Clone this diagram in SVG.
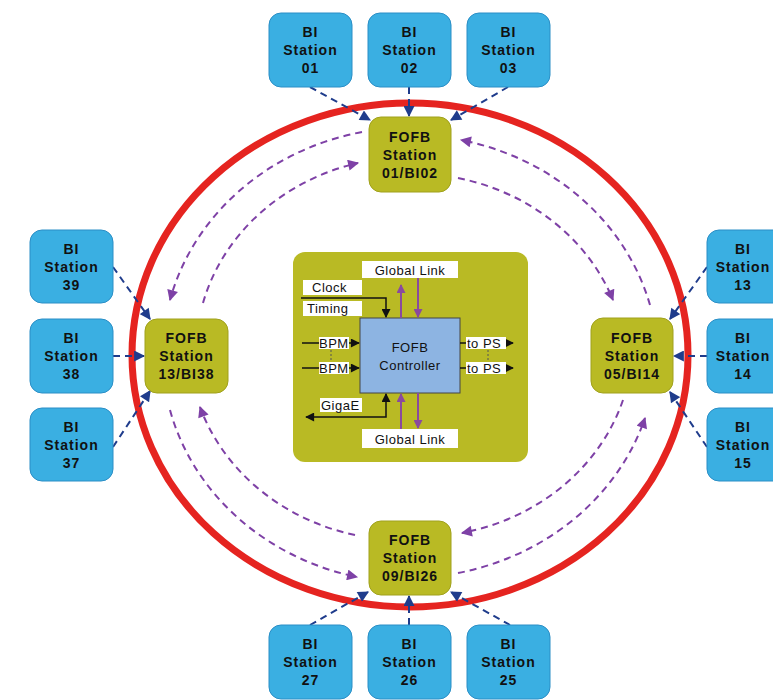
<svg xmlns="http://www.w3.org/2000/svg" width="773" height="700" viewBox="0 0 773 700">
<defs>
<style>
.bi{fill:#3AAFE2;stroke:#2A8EC6;stroke-width:1}
.fofb{fill:#B9BA24;stroke:#A0A11C;stroke-width:1}
.t{font-family:"Liberation Sans",Arial,sans-serif;font-size:14px;font-weight:bold;text-anchor:middle;letter-spacing:1px;fill:#111}
.c{font-family:"Liberation Sans",Arial,sans-serif;font-size:13px;fill:#111;letter-spacing:0.5px}
.nv{fill:none;stroke:#1F3C8C;stroke-width:2;stroke-dasharray:7,5;marker-end:url(#an)}
.pp{fill:none;stroke:#7E41A6;stroke-width:2;stroke-dasharray:7,5;marker-end:url(#ap)}
.wl{fill:#fff}
</style>
<marker id="an" viewBox="0 0 10 10" refX="9" refY="5" markerWidth="12" markerHeight="11" orient="auto" markerUnits="userSpaceOnUse"><path d="M0,0 L10,5 L0,10 z" fill="#1F3C8C"/></marker>
<marker id="ap" viewBox="0 0 10 10" refX="9" refY="5" markerWidth="12" markerHeight="11" orient="auto" markerUnits="userSpaceOnUse"><path d="M0,0 L10,5 L0,10 z" fill="#7E41A6"/></marker>
<marker id="ab" viewBox="0 0 10 10" refX="9" refY="5" markerWidth="10" markerHeight="9" orient="auto" markerUnits="userSpaceOnUse"><path d="M0,0 L10,5 L0,10 z" fill="#111"/></marker>
<marker id="abs" viewBox="0 0 10 10" refX="1" refY="5" markerWidth="10" markerHeight="9" orient="auto" markerUnits="userSpaceOnUse"><path d="M10,0 L0,5 L10,10 z" fill="#111"/></marker>
<marker id="apu" viewBox="0 0 10 10" refX="9" refY="5" markerWidth="10" markerHeight="9" orient="auto" markerUnits="userSpaceOnUse"><path d="M0,0 L10,5 L0,10 z" fill="#8A4A9E"/></marker>
</defs>
<rect width="773" height="700" fill="#fff"/>

<ellipse id="ring" cx="410" cy="355" rx="278" ry="252" fill="none" stroke="#E52420" stroke-width="7"/>

<g id="connectors">
<path class="nv" d="M310,87 L370,120"/>
<path class="nv" d="M409,87 L409,116"/>
<path class="nv" d="M508,87 L451,120"/>
<path class="nv" d="M113,267 L150,319"/>
<path class="nv" d="M113,356 L144,356"/>
<path class="nv" d="M113,447 L150,391"/>
<path class="nv" d="M707,267 L670,319"/>
<path class="nv" d="M707,356 L674,356"/>
<path class="nv" d="M707,447 L670,392"/>
<path class="nv" d="M310,625 L368,592"/>
<path class="nv" d="M409,625 L409,596"/>
<path class="nv" d="M510,625 L451,592"/>
<path class="pp" d="M362,132 A250,228 0 0,0 170,300"/>
<path class="pp" d="M170,410 A250,228 0 0,0 357,577"/>
<path class="pp" d="M458,573 A250,228 0 0,0 645,418"/>
<path class="pp" d="M650,305 A250,228 0 0,0 461,140"/>
<path class="pp" d="M203,303 A215,195 0 0,1 358,163"/>
<path class="pp" d="M458,178 A215,195 0 0,1 613,300"/>
<path class="pp" d="M623,400 A215,195 0 0,1 462,533"/>
<path class="pp" d="M355,535 A215,195 0 0,1 200,407"/>
</g>

<g id="bi01"><rect class="bi" x="269" y="13" width="83" height="74" rx="12"/><text class="t" x="310.5" y="37">BI</text><text class="t" x="310.5" y="55">Station</text><text class="t" x="310.5" y="73">01</text></g>
<g id="bi02"><rect class="bi" x="368" y="13" width="83" height="74" rx="12"/><text class="t" x="409.5" y="37">BI</text><text class="t" x="409.5" y="55">Station</text><text class="t" x="409.5" y="73">02</text></g>
<g id="bi03"><rect class="bi" x="467" y="13" width="83" height="74" rx="12"/><text class="t" x="508.5" y="37">BI</text><text class="t" x="508.5" y="55">Station</text><text class="t" x="508.5" y="73">03</text></g>

<g id="bi39"><rect class="bi" x="30" y="230" width="83" height="73" rx="12"/><text class="t" x="71.5" y="254">BI</text><text class="t" x="71.5" y="272">Station</text><text class="t" x="71.5" y="290">39</text></g>
<g id="bi38"><rect class="bi" x="30" y="319" width="83" height="74" rx="12"/><text class="t" x="71.5" y="343">BI</text><text class="t" x="71.5" y="361">Station</text><text class="t" x="71.5" y="379">38</text></g>
<g id="bi37"><rect class="bi" x="30" y="408" width="83" height="73" rx="12"/><text class="t" x="71.5" y="432">BI</text><text class="t" x="71.5" y="450">Station</text><text class="t" x="71.5" y="468">37</text></g>

<g id="bi13"><rect class="bi" x="707" y="230" width="83" height="73" rx="12"/><text class="t" x="743" y="254">BI</text><text class="t" x="743" y="272" letter-spacing="0.5">Station</text><text class="t" x="743" y="290">13</text></g>
<g id="bi14"><rect class="bi" x="707" y="319" width="83" height="74" rx="12"/><text class="t" x="743" y="343">BI</text><text class="t" x="743" y="361" letter-spacing="0.5">Station</text><text class="t" x="743" y="379">14</text></g>
<g id="bi15"><rect class="bi" x="707" y="408" width="83" height="73" rx="12"/><text class="t" x="743" y="432">BI</text><text class="t" x="743" y="450" letter-spacing="0.5">Station</text><text class="t" x="743" y="468">15</text></g>

<g id="bi27"><rect class="bi" x="269" y="625" width="83" height="74" rx="12"/><text class="t" x="310.5" y="649">BI</text><text class="t" x="310.5" y="667">Station</text><text class="t" x="310.5" y="685">27</text></g>
<g id="bi26"><rect class="bi" x="368" y="625" width="83" height="74" rx="12"/><text class="t" x="409.5" y="649">BI</text><text class="t" x="409.5" y="667">Station</text><text class="t" x="409.5" y="685">26</text></g>
<g id="bi25"><rect class="bi" x="467" y="625" width="83" height="74" rx="12"/><text class="t" x="508.5" y="649">BI</text><text class="t" x="508.5" y="667">Station</text><text class="t" x="508.5" y="685">25</text></g>

<g id="fofb01"><rect class="fofb" x="369" y="117" width="82" height="75" rx="12"/><text class="t" x="410" y="142">FOFB</text><text class="t" x="410" y="160">Station</text><text class="t" x="410" y="178">01/BI02</text></g>
<g id="fofb13"><rect class="fofb" x="145" y="319" width="83" height="74" rx="12"/><text class="t" x="186.5" y="343">FOFB</text><text class="t" x="186.5" y="361">Station</text><text class="t" x="186.5" y="379">13/BI38</text></g>
<g id="fofb05"><rect class="fofb" x="591" y="318" width="82" height="75" rx="12"/><text class="t" x="632" y="343">FOFB</text><text class="t" x="632" y="361">Station</text><text class="t" x="632" y="379">05/BI14</text></g>
<g id="fofb09"><rect class="fofb" x="369" y="521" width="82" height="74" rx="12"/><text class="t" x="410" y="545">FOFB</text><text class="t" x="410" y="563">Station</text><text class="t" x="410" y="581">09/BI26</text></g>

<g id="controller-panel">
<rect x="293" y="252" width="235" height="210" rx="12" fill="#B9BA24"/>
<rect x="360" y="318" width="100" height="75" fill="#8DB4E2" stroke="#444" stroke-width="1"/>
<text class="c" x="410" y="352" text-anchor="middle" fill="#333">FOFB</text>
<text class="c" x="410" y="370" text-anchor="middle" fill="#333">Controller</text>
<rect class="wl" x="362" y="261" width="96" height="17"/>
<text class="c" x="410" y="275" text-anchor="middle">Global  Link</text>
<rect class="wl" x="362" y="429" width="96" height="19"/>
<text class="c" x="410" y="444" text-anchor="middle">Global  Link</text>
<path d="M401,318 L401,285" stroke="#8A4A9E" stroke-width="2" fill="none" marker-end="url(#apu)"/>
<path d="M418,278 L418,317" stroke="#8A4A9E" stroke-width="2" fill="none" marker-end="url(#apu)"/>
<path d="M401,429 L401,394" stroke="#8A4A9E" stroke-width="2" fill="none" marker-end="url(#apu)"/>
<path d="M418,393 L418,428" stroke="#8A4A9E" stroke-width="2" fill="none" marker-end="url(#apu)"/>
<rect class="wl" x="303" y="280" width="59" height="15"/>
<text class="c" x="312" y="292">Clock</text>
<rect class="wl" x="303" y="301" width="59" height="15"/>
<text class="c" x="307" y="313">Timing</text>
<path d="M301,298 L386,298 L386,317" stroke="#111" stroke-width="1.5" fill="none" marker-end="url(#ab)"/>
<path d="M302,343 L359,343" stroke="#111" stroke-width="1.5" fill="none" marker-end="url(#ab)"/>
<path d="M302,368 L359,368" stroke="#111" stroke-width="1.5" fill="none" marker-end="url(#ab)"/>
<rect class="wl" x="319" y="337" width="30" height="12"/>
<text class="c" x="319" y="348" letter-spacing="-0.5">BPM</text>
<rect class="wl" x="319" y="362" width="30" height="12"/>
<text class="c" x="319" y="373" letter-spacing="-0.5">BPM</text>
<path d="M331,350 L331,362" stroke="#555" stroke-width="1" stroke-dasharray="2,2"/>
<path d="M460,343 L513,343" stroke="#111" stroke-width="1.5" fill="none" marker-end="url(#ab)"/>
<path d="M460,368 L513,368" stroke="#111" stroke-width="1.5" fill="none" marker-end="url(#ab)"/>
<rect class="wl" x="466" y="337" width="40" height="12"/>
<text class="c" x="467" y="348">to PS</text>
<rect class="wl" x="466" y="362" width="40" height="12"/>
<text class="c" x="467" y="373">to PS</text>
<path d="M488,350 L488,362" stroke="#555" stroke-width="1" stroke-dasharray="2,2"/>
<rect class="wl" x="320" y="398" width="42" height="14"/>
<text class="c" x="321" y="410">GigaE</text>
<path d="M306,417 L386,417 L386,394" stroke="#111" stroke-width="1.5" fill="none" marker-start="url(#abs)" marker-end="url(#ab)"/>
</g>
</svg>
